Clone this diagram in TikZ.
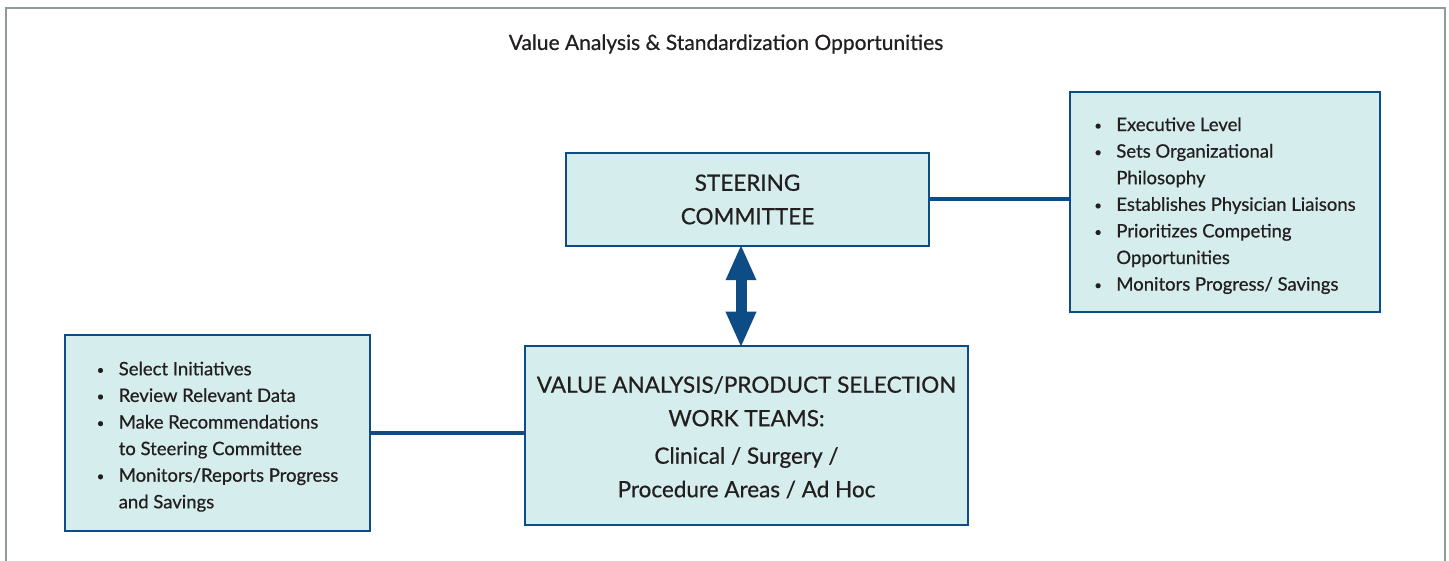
\documentclass[tikz,border=0pt]{standalone}
\usepackage{fontspec}
\setmainfont{Lato}[FakeBold=0.6]
\usetikzlibrary{arrows.meta}
\definecolor{boxfill}{HTML}{D6EDED}
\definecolor{boxline}{HTML}{0E4C85}
\definecolor{framegray}{HTML}{8F9B97}
\definecolor{txt}{HTML}{231F20}
\newcommand{\bul}{\makebox[22pt][l]{\raisebox{1pt}{\fontsize{13}{13}\selectfont\textbullet}}}
\newcommand{\ind}{\hspace*{22pt}}
\newcommand{\topstrut}{\rule{0pt}{21pt}}
\begin{document}
\begin{tikzpicture}[x=1pt,y=-1pt,
  box/.style={draw=boxline,fill=boxfill,line width=2.5pt,inner sep=0pt,text=txt},
  mainbox/.style={box,align=center,font={\fontsize{22.5}{33.5}\selectfont}},
  listbox/.style={box,align=left,font={\fontsize{18.5}{26.6}\selectfont}},
  conn/.style={draw=boxline,line width=4pt}]
\useasboundingbox (0,0) rectangle (1449,561);
\draw[framegray,line width=2pt] (6,575) -- (6,8) -- (1445,8) -- (1445,575);
\node[text=txt,font={\fontsize{21}{24}\selectfont}] (title) at (726,44) {Value Analysis \& Standardization Opportunities};
\node[mainbox,minimum width=363pt,minimum height=93pt] (ste) at (747.5,199.5) {STEERING\\COMMITTEE};
\node[listbox,minimum width=310pt,minimum height=220pt] (rgt) at (1225,202) {\topstrut\bul Executive Level\\
\bul Sets Organizational\\
\ind Philosophy\\
\bul Establishes Physician Liaisons\\
\bul Prioritizes Competing\\
\ind Opportunities\\
\bul Monitors Progress/ Savings};
\node[listbox,minimum width=305pt,minimum height=196pt] (lft) at (217.5,433) {\topstrut\bul Select Initiatives\\
\bul Review Relevant Data\\
\bul Make Recommendations\\
\ind to Steering Committee\\
\bul Monitors/Reports Progress\\
\ind and Savings};
\node[mainbox,minimum width=443pt,minimum height=179pt] (val) at (746.5,435.5) {\rule{0pt}{20pt}VALUE ANALYSIS/PRODUCT SELECTION\\WORK TEAMS:\\[4pt]Clinical / Surgery /\\Procedure Areas / Ad Hoc};
\coordinate (ax) at (741,0);
\draw[conn] (ste.east) -- (ste.east -| rgt.west);
\draw[conn] (lft.east) -- (lft.east -| val.west);
\draw[boxline,line width=11pt,shorten <=-3pt,shorten >=-3pt,{Triangle[length=36pt,width=28pt]}-{Triangle[length=36pt,width=28pt]}] (ax |- ste.south) -- (ax |- val.north);
\end{tikzpicture}
\end{document}
